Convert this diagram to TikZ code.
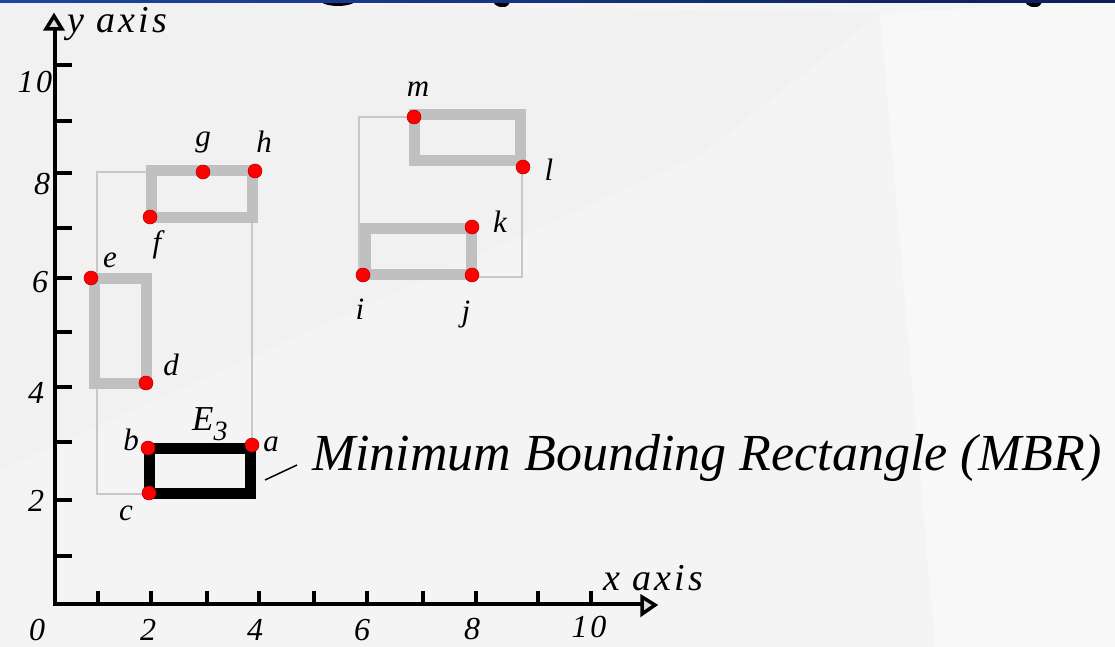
\documentclass[tikz,border=0pt]{standalone}
\usepackage{fontspec}
\setmainfont{Liberation Serif}
\newfontfamily\spacedserif[LetterSpace=8]{Liberation Serif}
\definecolor{bgbase}{HTML}{F4F4F4}
\definecolor{bglight}{HTML}{F8F8F8}
\definecolor{bgdark}{HTML}{F1F1F1}
\definecolor{objgray}{HTML}{C0C0C0}
\definecolor{mbrgray}{HTML}{C8C8C8}
\definecolor{barleft}{HTML}{1F46A3}
\definecolor{barright}{HTML}{0C1F57}
\definecolor{dotred}{HTML}{FF0000}
\begin{document}
\begin{tikzpicture}[x=1pt,y=-1pt,
  mbr/.style={draw=mbrgray, line width=1.3pt},
  obj/.style={draw=objgray, line width=11pt, line join=miter},
  mbrobj/.style={draw=black, line width=11pt, line join=miter},
  pt/.style={circle, fill=dotred, draw=red!70!black, line width=0.5pt, minimum size=14pt, inner sep=0pt},
  lbl/.style={font=\fontsize{31}{36}\selectfont\itshape, inner sep=0pt},
  num/.style={font=\fontsize{32}{36}\selectfont\spacedserif\itshape, inner sep=0pt},
  axislbl/.style={font=\fontsize{38}{42}\selectfont\spacedserif\itshape, inner sep=0pt, anchor=base west},
  axisline/.style={line width=4pt, black},
  tickline/.style={line width=4pt, black},
  arrowtri/.style={draw=black, line width=3.5pt, fill=gray!30, line join=miter}
]
\useasboundingbox (0,0) rectangle (1115,647);
% background
\fill[bgbase] (0,0) rectangle (1115,647);
\fill[bgdark] (0,0) -- (880,13) -- (700,155) -- (0,470) -- cycle;
\fill[bglight] (880,13) -- (1115,0) -- (1115,647) -- (935,647) -- cycle;
% cut-off title glyphs
\begin{scope}
  \clip (0,0) rectangle (1115,7);
  \fill[black] (338,-2) ellipse [x radius=20, y radius=8];
  \fill[black, rotate around={-20:(501,0)}] (501,0) ellipse [x radius=9, y radius=7];
  \fill[black, rotate around={-20:(1033,0)}] (1033,0) ellipse [x radius=9, y radius=7];
\end{scope}
\shade[left color=barleft, right color=barright] (0,0) rectangle (1115,2.5);

% minimum bounding rectangles of the groups
\draw[mbr] (97,172) rectangle (252,494);
\draw[mbr] (359,117) rectangle (522,277);

% objects
\draw[obj] (94,278) rectangle (146,383);
\draw[obj] (151,171) rectangle (252,217);
\draw[obj] (414,115) rectangle (520,161);
\draw[obj] (365,228) rectangle (471,274);
\draw[mbrobj] (149,448) rectangle (250,493);

% points
\node[pt] (a) at (252,445) {};
\node[pt] (b) at (148,448) {};
\node[pt] (c) at (149,493) {};
\node[pt] (d) at (146,383) {};
\node[pt] (e) at (91,278) {};
\node[pt] (f) at (150,217) {};
\node[pt] (g) at (203,172) {};
\node[pt] (h) at (255,171) {};
\node[pt] (i) at (363,275) {};
\node[pt] (j) at (472,275) {};
\node[pt] (k) at (472,227) {};
\node[pt] (l) at (523,167) {};
\node[pt] (m) at (414,117) {};

% point labels
\node[lbl] (la) at (271,444) {a};
\node[lbl] (lb) at (131,440) {b};
\node[lbl] (lc) at (126,513) {c};
\node[lbl] (ld) at (171,365) {d};
\node[lbl] (le) at (110,260) {e};
\node[lbl] (lf) at (157,245) {f};
\node[lbl] (lg) at (203,143) {g};
\node[lbl] (lh) at (264,142) {h};
\node[lbl] (li) at (360,309) {i};
\node[lbl] (lj) at (466,315) {j};
\node[lbl] (lk) at (500,222) {k};
\node[lbl] (ll) at (549,170) {l};
\node[lbl] (lm) at (418,89) {m};
\node[font=\fontsize{35}{40}\selectfont\itshape, inner sep=0pt, anchor=base west] (E3) at (192,430) {E\raisebox{-0.3em}{\fontsize{28}{30}\selectfont 3}};

% MBR annotation
\node[font=\fontsize{52}{60}\selectfont\itshape, inner sep=0pt, anchor=base west] (mbrtext) at (312,470) {Minimum Bounding Rectangle (MBR)};
\coordinate (ldA) at (265,480);
\coordinate (ldB) at (297,465);
\draw[black, line width=1.5pt] (ldA) -- (ldB);

% axes
\coordinate (O) at (55,604);
\coordinate (ytop) at (55,30);
\coordinate (xend) at (641,604);
\draw[axisline] (55,606) -- (ytop);
\draw[axisline] (53,604) -- (xend);
\draw[arrowtri] (54,16) -- (46,29) -- (62,29) -- cycle;
\draw[arrowtri] (655,605) -- (642,597) -- (642,614) -- cycle;
\foreach \yy in {65,121,173,228,278,332,387,442,500,556}
  \draw[tickline] (55,\yy) -- (72,\yy);
\foreach \xx in {98,151,207,259,314,367,423,476,538,591}
  \draw[tickline] (\xx,604) -- (\xx,591);

\node[axislbl] (yl) at (67,33) {y axis};
\node[axislbl] (xl) at (603,590) {x axis};

% axis numbers
\node[num] (n0) at (37,630) {0};
\node[num] (nx2) at (148,630) {2};
\node[num] (nx4) at (255,630) {4};
\node[num] (nx6) at (362,630) {6};
\node[num] (nx8) at (472,629) {8};
\node[num] (nx10) at (589,627) {10};
\node[num] (ny2) at (36,501) {2};
\node[num] (ny4) at (36,393) {4};
\node[num] (ny6) at (40,282) {6};
\node[num] (ny8) at (42,184) {8};
\node[num] (ny10) at (35,82) {10};
\end{tikzpicture}
\end{document}
